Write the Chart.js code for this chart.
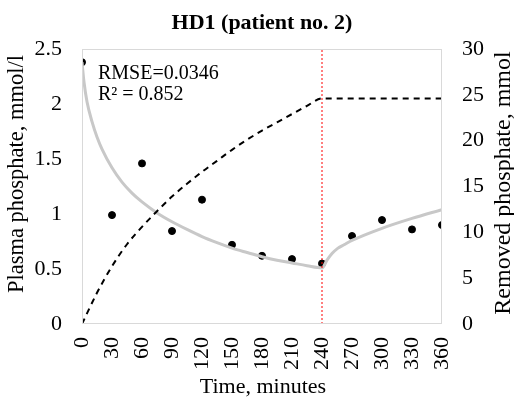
<!DOCTYPE html>
<html>
<head>
<meta charset="utf-8">
<script src="https://cdn.jsdelivr.net/npm/chart.js@4"></script>
<style>
    body { margin: 0; background: #fff; }
    #wrap { width: 514px; height: 398px; }
</style>
</head>
<body>
<div id="wrap"><canvas id="hdChart" width="514" height="398"></canvas></div>
<script>
// measured plasma phosphate (mmol/l)
const measuredTime = [0, 30, 60, 90, 120, 150, 180, 210, 240, 270, 300, 330, 360];
const measuredPhosphate = [2.38, 0.99, 1.46, 0.845, 1.13, 0.72, 0.62, 0.59, 0.55, 0.80, 0.945, 0.86, 0.90];

// model curve (mmol/l)
const modelTime = [0, 2, 5, 10, 15, 20, 30, 40, 50, 60, 75, 90, 105, 120, 135, 150, 165, 180, 195, 210, 225, 240, 245, 250, 256, 262, 270, 300, 330, 360];
const modelPhosphate = [2.38, 2.2, 2.02, 1.84, 1.7, 1.59, 1.42, 1.29, 1.19, 1.11, 1.01, 0.93, 0.86, 0.795, 0.74, 0.69, 0.65, 0.612, 0.58, 0.555, 0.53, 0.51, 0.58, 0.64, 0.69, 0.72, 0.76, 0.87, 0.96, 1.04];

// cumulative removed phosphate (mmol)
const removedTime = [0, 15, 30, 45, 60, 75, 90, 105, 120, 135, 150, 165, 180, 195, 210, 225, 240, 360];
const removedPhosphate = [0, 3.4, 6.3, 8.7, 10.6, 12.3, 13.9, 15.3, 16.6, 17.8, 19.0, 20.1, 21.1, 22.0, 22.9, 23.8, 24.6, 24.6];

// end of dialysis marker
const dialysisEnd = [240, 240];
const markerRange = [0, 2.5];

const fitLines = ['RMSE=0.0346', 'R² = 0.852'];
const chartTitle = 'HD1 (patient no. 2)';
const xTitle = 'Time, minutes';
const yTitle = 'Plasma phosphate, mmol/l';
const y2Title = 'Removed phosphate, mmol';

const serif = '"Liberation Serif", "Times New Roman", serif';

function toPoints(xs, ys) {
    return xs.map((x, i) => ({ x: x, y: ys[i] }));
}

function rotatedText(ctx, text, x, y, size) {
    ctx.save();
    ctx.fillStyle = '#000';
    ctx.font = size + 'px ' + serif;
    ctx.textAlign = 'center';
    ctx.textBaseline = 'middle';
    ctx.translate(x, y);
    ctx.rotate(-Math.PI / 2);
    ctx.fillText(text, 0, 0);
    ctx.restore();
}

const textPlugin = {
    id: 'extraText',
    afterDraw(chart) {
        const ctx = chart.ctx;
        const area = chart.chartArea;
        ctx.save();
        // plot frame
        ctx.strokeStyle = '#d9d9d9';
        ctx.lineWidth = 1;
        ctx.strokeRect(area.left + 0.5, area.top + 0.5, area.right - area.left - 1, area.bottom - area.top - 1);

        ctx.fillStyle = '#000';
        ctx.font = '20px ' + serif;
        ctx.textAlign = 'left';
        ctx.textBaseline = 'middle';
        ctx.fillText(fitLines[0], area.left + 16, area.top + 25);
        ctx.fillText(fitLines[1], area.left + 16, area.top + 46);

        ctx.font = '22px ' + serif;
        ctx.textAlign = 'center';
        ctx.fillText(xTitle, 263, 387);
        ctx.restore();

        rotatedText(ctx, yTitle, 17, 174, 22.5);
        rotatedText(ctx, y2Title, 504, 183, 24);
    }
};

new Chart(document.getElementById('hdChart').getContext('2d'), {
    type: 'line',
    data: {
        datasets: [
            {
                label: 'end',
                data: toPoints(dialysisEnd, markerRange),
                borderColor: '#ff0000',
                borderWidth: 1,
                borderDash: [2, 2],
                pointRadius: 0,
                yAxisID: 'y'
            },
            {
                label: 'removed',
                data: toPoints(removedTime, removedPhosphate),
                borderColor: '#000',
                borderWidth: 2,
                borderDash: [6, 5],
                pointRadius: 0,
                cubicInterpolationMode: 'monotone',
                yAxisID: 'y2'
            },
            {
                label: 'model',
                data: toPoints(modelTime, modelPhosphate),
                borderColor: '#c8c8c8',
                borderWidth: 3,
                pointRadius: 0,
                cubicInterpolationMode: 'monotone',
                yAxisID: 'y'
            },
            {
                label: 'measured',
                data: toPoints(measuredTime, measuredPhosphate),
                showLine: false,
                pointRadius: 3.5,
                pointBackgroundColor: '#000',
                pointBorderColor: '#000',
                yAxisID: 'y'
            }
        ]
    },
    options: {
        responsive: false,
        animation: false,
        layout: { padding: 0 },
        plugins: {
            legend: { display: false },
            tooltip: { enabled: false },
            title: {
                display: true,
                text: chartTitle,
                fullSize: false,
                color: '#000',
                font: { family: serif, size: 22, weight: 'bold', lineHeight: 1.2 },
                padding: { top: 10, bottom: 12.6 }
            }
        },
        scales: {
            x: {
                type: 'linear',
                min: 0,
                max: 360,
                grid: { display: false },
                border: { display: false },
                ticks: {
                    stepSize: 30,
                    minRotation: 90,
                    maxRotation: 90,
                    color: '#000',
                    padding: 5,
                    font: { family: serif, size: 22 }
                },
                afterFit(scale) { scale.height = 74; }
            },
            y: {
                position: 'left',
                min: 0,
                max: 2.5,
                grid: { display: false },
                border: { display: false },
                ticks: {
                    stepSize: 0.5,
                    color: '#000',
                    padding: 12,
                    font: { family: serif, size: 22 },
                    callback: (v) => String(Math.round(v * 10) / 10)
                },
                afterFit(scale) { scale.width = 82; }
            },
            y2: {
                position: 'right',
                min: 0,
                max: 30,
                grid: { display: false },
                border: { display: false },
                ticks: {
                    stepSize: 5,
                    color: '#000',
                    padding: 12,
                    font: { family: serif, size: 22 }
                },
                afterFit(scale) { scale.width = 72; }
            }
        }
    },
    plugins: [textPlugin]
});
</script>
</body>
</html>
